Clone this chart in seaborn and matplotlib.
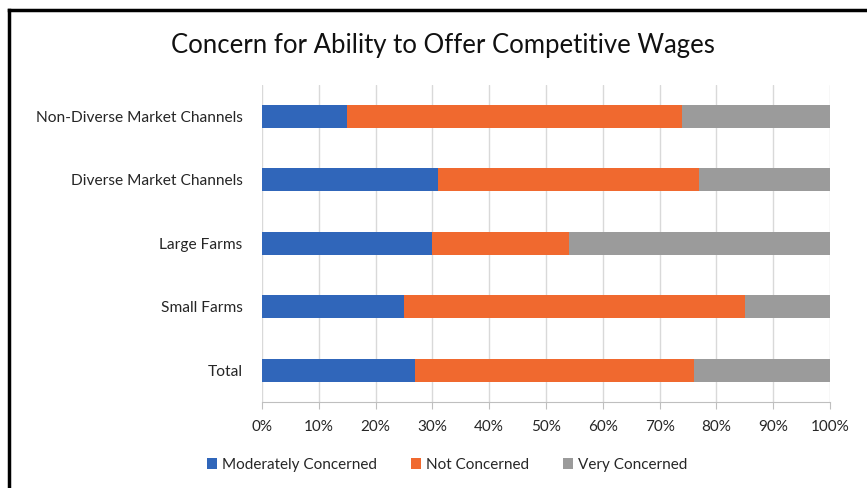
import matplotlib
matplotlib.use("Agg")
import matplotlib.pyplot as plt
from matplotlib.lines import Line2D
from matplotlib.patches import Patch
from matplotlib.ticker import PercentFormatter
import numpy as np
import pandas as pd
import seaborn as sns

categories = ["Non-Diverse Market Channels", "Diverse Market Channels",
              "Large Farms", "Small Farms", "Total"]
moderately = [15, 31, 30, 25, 27]
not_concerned = [59, 46, 24, 60, 49]
very = [26, 23, 46, 15, 24]
series_names = ["Moderately Concerned", "Not Concerned", "Very Concerned"]
colors = ["#3066BA", "#F0692F", "#9B9B9B"]
x_ticks = list(range(0, 101, 10))

sns.set_style("white")
plt.rcParams["font.family"] = ["Lato", "DejaVu Sans"]

fig = plt.figure(figsize=(8.67, 4.88), dpi=100)
ax = fig.add_axes([262 / 867, 1 - 402 / 488, (830 - 262) / 867, (402 - 84.5) / 488])

df = pd.DataFrame({"category": categories, "m": moderately, "n": not_concerned, "v": very})
df["c1"] = df["m"]
df["c2"] = df["m"] + df["n"]
df["c3"] = df["m"] + df["n"] + df["v"]

# stacked bars: draw the cumulative totals from the outermost segment inwards
for col, color in zip(["c3", "c2", "c1"], colors[::-1]):
    sns.barplot(data=df, x=col, y="category", order=categories, color=color,
                width=0.36, orient="h", ax=ax, saturation=1, linewidth=0)

ax.set_xlim(0, 100)
ax.set_xticks(x_ticks)
ax.xaxis.set_major_formatter(PercentFormatter(decimals=0))
ax.set_xlabel("")
ax.set_ylabel("")
ax.grid(axis="x", color="#D9D9D9", linewidth=1)
ax.set_axisbelow(True)
for side in ["top", "right", "left"]:
    ax.spines[side].set_visible(False)
ax.spines["bottom"].set_color("#BFBFBF")
ax.tick_params(axis="x", length=5, color="#BFBFBF", direction="out", pad=8,
               labelsize=11, labelcolor="#262626", bottom=True)
ax.tick_params(axis="y", length=0, pad=14, labelsize=11.2, labelcolor="#262626")

fig.text(443 / 867, 1 - 45 / 488, "Concern for Ability to Offer Competitive Wages",
         ha="center", va="center", fontsize=18.5, color="#111111")

handles = [Patch(facecolor=c, edgecolor="none") for c in colors]
fig.legend(handles, series_names, loc="center", bbox_to_anchor=(447 / 867, 1 - 465 / 488),
           ncol=3, frameon=False, fontsize=11, handlelength=0.7, handleheight=0.7,
           handletextpad=0.3, columnspacing=2.2, labelcolor="#262626")

# black frame along the left and top edges
fig.add_artist(Line2D([8.5 / 867, 8.5 / 867], [0, 1 - 10 / 488], color="black", linewidth=2.5,
                      transform=fig.transFigure, solid_capstyle="projecting"))
fig.add_artist(Line2D([8.5 / 867, 1], [1 - 10 / 488, 1 - 10 / 488], color="black", linewidth=2.5,
                      transform=fig.transFigure, solid_capstyle="projecting"))

fig.savefig("out.png", dpi=100)
